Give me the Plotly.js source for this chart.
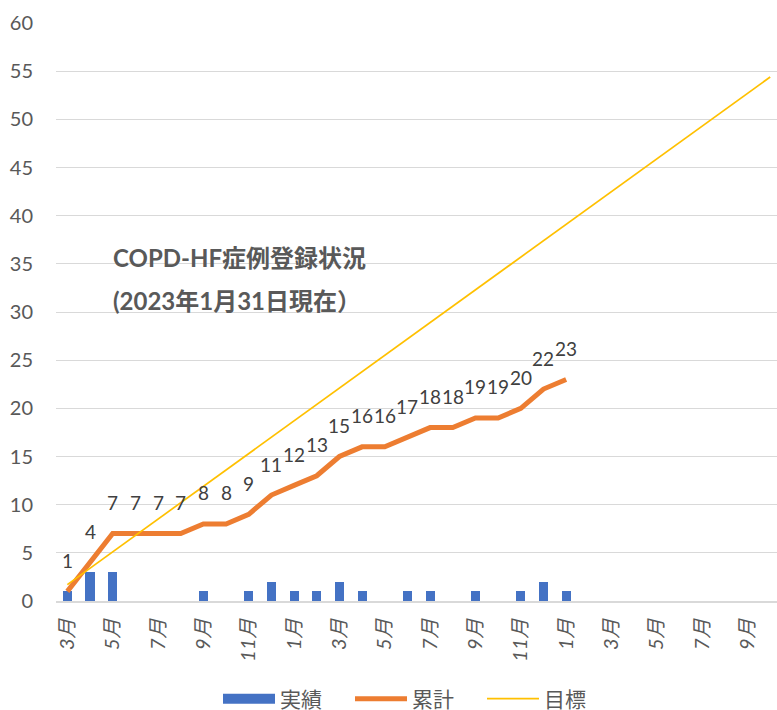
<!DOCTYPE html>
<html>
<head>
<meta charset="utf-8">
<script src="https://cdn.plot.ly/plotly-3.0.1.min.js"></script>
<style>html,body{margin:0;padding:0;background:#fff;overflow:hidden}#chart{width:777px;height:710px}</style>
</head>
<body>
<div id="chart"></div>
<script>
const months = ['3月','4月','5月','6月','7月','8月','9月','10月','11月','12月','1月','2月',
  '3月','4月','5月','6月','7月','8月','9月','10月','11月','12月','1月','2月',
  '3月','4月','5月','6月','7月','8月','9月','10月'];
const actual = [1,3,3,0,0,0,1,0,1,2,1,1,2,1,0,1,1,0,1,0,1,2,1];
const cumulative = [1,4,7,7,7,7,8,8,9,11,12,13,15,16,16,17,18,18,19,19,20,22,23];
const target = [1.7,3.4,5.1,6.8,8.5,10.2,11.9,13.6,15.3,17.0,18.7,20.4,22.1,23.8,25.5,27.2,
  28.9,30.6,32.3,34.0,35.7,37.4,39.1,40.8,42.5,44.2,45.9,47.6,49.3,51.0,52.7,54.4];
const seriesNames = ['実績','累計','目標'];
const titleLines = ['COPD-HF症例登録状況','(2023年1月31日現在）'];

const idx = months.map((m,i)=>i);
const tickIdx = idx.filter(i=>i%2===0);
const tickText = tickIdx.map(i=>months[i]);

const FONT = 'Lato, "Noto Sans CJK JP", sans-serif';
const GRAY = '#595959';
const BLUE = '#4472C4';

const traces = [
  {type:'bar', name:seriesNames[0], x:idx.slice(0,actual.length), y:actual,
   marker:{color:BLUE}, width:0.4, showlegend:false},
  // legend entry for the bars (wide box like the original)
  {type:'scatter', mode:'lines', name:seriesNames[0], x:[null], y:[null],
   line:{color:BLUE, width:10}, hoverinfo:'skip'},
  {type:'scatter', mode:'lines', name:seriesNames[1], x:idx.slice(0,cumulative.length), y:cumulative,
   line:{color:'#ED7D31', width:5}},
  {type:'scatter', mode:'lines', name:seriesNames[2], x:idx, y:target,
   line:{color:'#FFC000', width:1.7}}
];

const annotations = cumulative.map((v,i)=>({
  x:i, y:v, xref:'x', yref:'y', text:String(v), showarrow:false,
  yanchor:'middle', xanchor:'center', yshift:31,
  font:{family:FONT, size:19, color:'#404040'}
}));
titleLines.forEach((t,k)=>annotations.push({
  xref:'paper', yref:'paper', x:(111-56)/721, y:(601-257-43*k)/578,
  text:'<b>'+t+'</b>', showarrow:false, xanchor:'left', yanchor:'middle',
  font:{family:FONT, size:24, color:GRAY}
}));

const layout = {
  width:777, height:710,
  margin:{l:56, r:0, t:23, b:109},
  paper_bgcolor:'#fff', plot_bgcolor:'#fff',
  showlegend:true,
  legend:{orientation:'h', xref:'container', yref:'container',
    x:(218)/777, xanchor:'left', y:(710-699)/710, yanchor:'middle',
    itemwidth:52, entrywidth:65, tracegroupgap:0,
    font:{family:FONT, size:21, color:GRAY}},
  xaxis:{range:[-0.5,31.3], tickvals:tickIdx, ticktext:tickText, tickangle:-90,
    tickfont:{family:FONT, size:20, color:GRAY, style:'italic'},
    showgrid:false, zeroline:false, showline:true, linecolor:'#D9D9D9', linewidth:1.5,
    ticks:'', ticklabelstandoff:8, fixedrange:true, automargin:false},
  yaxis:{range:[0,60], dtick:5, tickfont:{family:FONT, size:20, color:GRAY},
    showgrid:true, gridcolor:'#D9D9D9', gridwidth:1, zeroline:false, showline:false,
    ticks:'', ticklabelstandoff:22, fixedrange:true, automargin:false},
  annotations:annotations,
  bargap:0
};

Plotly.newPlot('chart', traces, layout, {displayModeBar:false, staticPlot:true});
</script>
</body>
</html>
